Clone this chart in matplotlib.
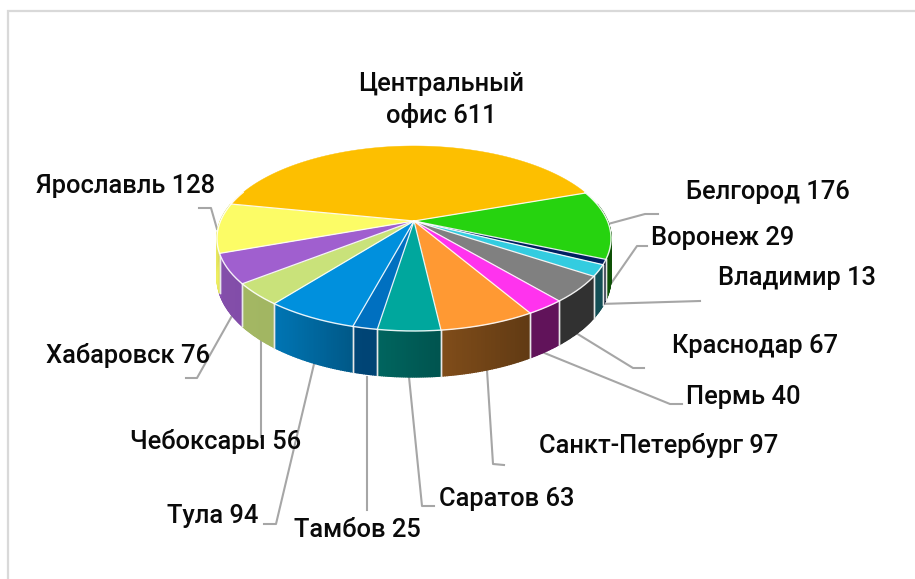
# -*- coding: utf-8 -*-
import numpy as np
import matplotlib
matplotlib.use('Agg')
import matplotlib.pyplot as plt
from matplotlib.colors import to_rgb

# clockwise from the Central/Belgorod boundary
names = ['Белгород', 'Владимир', 'Воронеж', 'Краснодар', 'Пермь', 'Санкт-Петербург',
         'Саратов', 'Тамбов', 'Тула', 'Чебоксары', 'Хабаровск', 'Ярославль', 'Центральный\nофис']
values = [176, 13, 29, 67, 40, 97, 63, 25, 94, 56, 76, 128, 611]
colors = ['#26D30F', '#002060', '#33CCE0', '#808080', '#FF33EE', '#FF9933',
          '#00A79D', '#0070C0', '#0090DD', '#C9E27A', '#A05FCF', '#FCFC66', '#FDBF00']

# centre of each label in pixels
label_x = [768, 797, 723, 755, 743, 659, 507, 357, 213, 216, 128, 126, 441]
label_y = [192, 278, 238, 346, 397, 446, 499, 530, 516, 441, 355, 186, 100]

leaders = [
    [(608, 224), (645, 214), (658, 214)],
    [(603, 295), (637, 246), (647, 246)],
    [(600, 304), (700, 301)],
    [(576, 333), (633, 368), (644, 368)],
    [(542, 352), (670, 404), (682, 404)],
    [(487, 370), (493, 464), (504, 465)],
    [(409, 377), (422, 506), (434, 506)],
    [(367, 377), (367, 510)],
    [(314, 364), (276, 524), (264, 524)],
    [(261, 340), (261, 437)],
    [(233, 314), (197, 378), (186, 378)],
    [(217, 229), (211, 208), (199, 208)],
]

cx, cy = 414, 221
rx, ry = 193.5, 89.2
k = 0.189
depth = 37.3
start = 19.5


def project(theta, r=1.0, z=0.0):
    # theta in degrees, counter-clockwise, y of the disc comes toward the viewer
    t = np.radians(theta)
    X = r * np.cos(t)
    Y = -r * np.sin(t)
    s = 1 / (1 - k * Y)
    return cx + rx * X * s, cy + ry * Y * s + z * depth * s


def shade(x):
    return np.interp(x, [216, 222, 280, 350, 380, 442, 530, 610], [0.97, 0.82, 0.80, 0.62, 0.60, 0.50, 0.38, 0.38])


fig = plt.figure(figsize=(9.15, 5.79), dpi=100)
ax = fig.add_axes([0, 0, 1, 1])
ax.set_xlim(0, 915)
ax.set_ylim(579, 0)
ax.axis('off')
plt.rcParams['font.family'] = ['Roboto', 'DejaVu Sans']

ax.plot([8, 8, 915], [579, 11, 11], color='#d9d9d9', lw=1.6, solid_joinstyle='miter')

for pts in leaders:
    ax.plot(*zip(*pts), color='#a6a6a6', lw=1.5, zorder=1, solid_joinstyle='round')

edges = start - np.cumsum([0] + values) / sum(values) * 360

# side wall, thin strips with the colour set by screen position
for i, c in enumerate(colors):
    rgb = np.array(to_rgb(c))
    th = np.linspace(edges[i], edges[i + 1], max(3, int(abs(edges[i + 1] - edges[i]) * 2)))
    for a, b in zip(th[:-1], th[1:]):
        if np.sin(np.radians((a + b) / 2)) > 0.2:
            continue
        x1, y1 = project(a)
        x2, y2 = project(b)
        x3, y3 = project(b, z=1)
        x4, y4 = project(a, z=1)
        col = rgb * shade((x1 + x2) / 2)
        ax.fill([x1, x2, x3, x4], [y1, y2, y3, y4], color=col, lw=1.0, zorder=2)
    for e in (edges[i], edges[i + 1]):
        if np.sin(np.radians(e)) < 0.2:
            x1, y1 = project(e)
            x2, y2 = project(e, z=1)
            ax.plot([x1, x2], [y1, y2], color='#e8e8e8', lw=1.0, zorder=3)

# top of the pie
for i, c in enumerate(colors):
    th = np.linspace(edges[i], edges[i + 1], max(3, int(abs(edges[i + 1] - edges[i]) * 2)))
    xs, ys = project(th)
    ax.fill(np.r_[cx, xs], np.r_[cy, ys], color=c, lw=0.3, zorder=4)
for i, e in enumerate(edges[:-1]):
    x, y = project(e)
    ax.plot([cx, x], [cy, y], color='white', lw=0.9, alpha=0.9, zorder=5)
th = np.linspace(-200, 20, 300)
xs, ys = project(th)
ax.plot(xs, ys, color='white', lw=1.0, alpha=0.9, zorder=5)

for name, v, x, y in zip(names, values, label_x, label_y):
    ax.text(x, y, f'{name} {v}', ha='center', va='center', fontsize=18.4, fontweight='medium',
            color='#0a0a0a', linespacing=1.35, zorder=6)

fig.savefig('out.png', dpi=100)
